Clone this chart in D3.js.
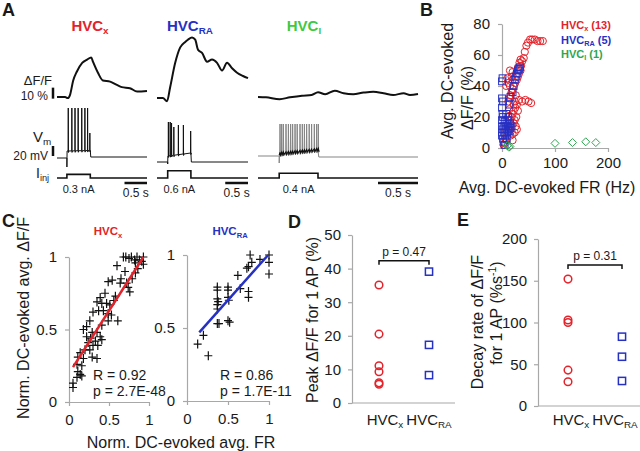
<!DOCTYPE html>
<html><head><meta charset="utf-8">
<script src="https://cdn.jsdelivr.net/npm/d3@7"></script>
<style>
body{margin:0;background:#fff}
svg{display:block}
text{font-family:"Liberation Sans",Arial,Helvetica,sans-serif;fill:#1a1a1a}
</style></head>
<body><svg id="c" width="640" height="451"></svg>
<script>
// ---------------- DATA ----------------
// Panel A: ΔF/F traces [time s, %]
const dffX  = [[0,0],[0.18,0],[0.24,-1],[0.29,2],[0.36,15],[0.44,23],[0.56,31],[0.67,34],[0.76,36],[0.8,32],[0.91,22],[1.02,15],[1.18,14],[1.33,11],[1.44,9],[1.62,8],[1.78,5],[2.0,5.5]];
const dffRA = [[0,0],[0.13,0],[0.22,-3],[0.29,10],[0.40,32],[0.51,46],[0.62,51],[0.68,53],[0.77,55],[0.84,53],[0.9,44],[0.99,41],[1.1,33],[1.21,35],[1.32,32],[1.43,25],[1.54,32],[1.65,27],[1.76,23],[1.89,20],[2.0,18]];
const dffI  = [[0,0],[0.1,-0.3],[0.27,-2],[0.4,-0.3],[0.55,1.2],[0.67,1.8],[0.75,4.3],[0.84,2.5],[0.96,5.7],[1.07,3.4],[1.19,2.5],[1.32,4],[1.44,4.8],[1.57,3.4],[1.69,1.8],[1.82,3.4],[1.9,1.8],[2.0,2.7]];
// Panel A: Vm spikes (s) and peak (mV)
const spikesX  = [0.25,0.33,0.40,0.47,0.55,0.62,0.68,0.73];
const peaksX   = [30,30,30,30,30,30,30,-20];
const spikesRA = [0.25,0.29,0.32,0.37,0.47,0.58,0.74];
const peaksRA  = [10,10,8,0,4,4,-8];
const spikesI  = [0.275,0.296,0.317,0.35,0.38,0.408,0.433,0.463,0.49,0.525,0.554,0.58,0.608,0.64,0.67,0.704,0.733,0.754];
const peaksI   = [-6,-6,-6,-6,-6,-6,-6,-6,-6,-6,-6,-6,-6,-6,-6,-6,-6,-6];
const currents = [0.3,0.6,0.4];
const currentLabels = ["0.3 nA","0.6 nA","0.4 nA"];

// Panel B: [FR Hz, ΔF/F %]
const bHVCx = [[49,68],[53,70],[57,70],[62,70],[67,69],[72,69],[77,69],[46,66],[43,62],[41,58],[38,56],[36,53],[35,50],[32,48],[30,46],[28,44],[25,42],[22,40],[20,38],[18,36],[16,34],[14,32],[12,30],[30,52],[33,55],[35,57],[15,50],[20,49],[18,46],[10,45],[12,42],[8,40],[15,40],[20,44],[38,30],[44,31],[50,30],[55,29],[32,31],[28,28],[25,26],[22,24],[30,24],[20,22],[27,20],[24,18],[18,20],[22,16],[26,14],[28,12],[24,10],[20,9],[16,12],[18,15],[5,3],[8,5],[10,8],[12,10],[14,14],[6,6],[3,2],[15,18],[10,15],[12,20],[14,25],[8,12],[16,8],[20,5],[24,30],[26,34],[22,28]];
const bHVCRA = [[0,43],[1,45],[0,32],[2,30],[0,26],[1,22],[0,18],[0,14],[1,12],[0,10],[0,8],[2,6],[3,4],[5,2],[4,10],[6,12],[8,14],[10,10],[12,12],[14,11],[16,13],[18,14],[10,18],[8,22],[12,20],[14,28],[16,33],[20,36],[22,40],[24,44],[26,46],[28,48],[30,50],[32,51],[34,52],[6,8],[9,6],[11,14],[15,16],[3,14],[5,17],[2,20]];
const bHVCI  = [[100,3],[133,3.5],[158,4],[177,3.5],[10,1.5],[13,0.5],[15,1]];
const bXTicks = [0,100,200];
const bYTicks = [0,20,40,60,80];

// Panel C: normalized [FR, ΔF/F]
const cHVCx = [[0.6,0.94],[0.68,1.0],[0.71,1.0],[0.75,0.99],[0.78,1.0],[0.82,0.98],[0.85,1.0],[0.88,0.98],[0.91,0.97],[0.93,0.95],[0.93,1.0],[0.83,0.96],[0.86,0.92],[0.83,0.89],[0.79,0.85],[0.74,0.79],[0.76,0.76],[0.64,0.82],[0.65,0.85],[0.54,0.84],[0.49,0.83],[0.45,0.75],[0.39,0.72],[0.35,0.69],[0.41,0.68],[0.47,0.68],[0.51,0.67],[0.43,0.63],[0.37,0.63],[0.30,0.62],[0.49,0.61],[0.53,0.6],[0.61,0.56],[0.49,0.56],[0.41,0.53],[0.26,0.56],[0.22,0.52],[0.18,0.5],[0.29,0.48],[0.35,0.48],[0.39,0.45],[0.22,0.45],[0.24,0.41],[0.30,0.39],[0.36,0.39],[0.41,0.43],[0.26,0.36],[0.20,0.36],[0.29,0.31],[0.35,0.30],[0.14,0.34],[0.18,0.3],[0.11,0.31],[0.10,0.26],[0.16,0.25],[0.11,0.21],[0.14,0.19],[0.16,0.18],[0.10,0.17],[0.05,0.13],[0.05,0.10],[0.27,0.44],[0.33,0.42],[0.7,0.9],[0.72,0.82],[0.56,0.7],[0.58,0.73]];
const cHVCRA = [[0.77,1.0],[0.89,0.97],[1.0,1.0],[1.0,0.95],[1.0,0.87],[0.79,0.95],[0.75,0.92],[0.73,0.91],[0.62,0.86],[0.65,0.77],[0.75,0.75],[0.75,0.71],[0.5,0.78],[0.5,0.76],[0.5,0.71],[0.51,0.69],[0.37,0.78],[0.37,0.76],[0.37,0.70],[0.38,0.68],[0.37,0.66],[0.37,0.63],[0.37,0.53],[0.39,0.53],[0.5,0.55],[0.52,0.54],[0.2,0.45],[0.13,0.39],[0.26,0.31]];
const cFitX  = [[0.05,0.24],[0.93,1.0]];
const cFitRA = [[0.15,0.47],[0.99,1.0]];
const cTicks = [0,0.5,1];
const cStats = [["R = 0.92","p = 2.7E-48"],["R = 0.86","p = 1.7E-11"]];

// Panel D: peak ΔF/F for 1 AP (%)
const dHVCx  = [35.1,20.5,11.1,9.3,6.0,5.6];
const dHVCRA = [39.1,17.3,8.3];
const dYTicks = [0,10,20,30,40,50];
// Panel E: decay rate (%/s)
const eHVCx  = [152,103,100,43,29];
const eHVCRA = [83,59,30];
const eYTicks = [0,50,100,150,200];

// ---------------- DRAW ----------------
const svg = d3.select('#c');
const AX = '#a8a8a8', RED = '#e3232b', BLUE = '#2631c4', GREEN_A = '#3fc93f', GREEN = '#2ea651';

function rich(g, x, y, parts, fs, anchor, opts = {}) {
  const t = g.append('text').attr('x', x).attr('y', y).attr('font-size', fs)
    .attr('text-anchor', anchor || 'start');
  if (opts.rotate) t.attr('transform', `rotate(-90,${x},${y})`);
  if (opts.weight) t.attr('font-weight', opts.weight);
  if (opts.fill) t.style('fill', opts.fill);
  let shift = 0;
  parts.forEach(p => {
    const [s, type] = Array.isArray(p) ? p : [p, null];
    const target = type === 'sub' ? fs * 0.22 : type === 'sup' ? -fs * 0.4 : 0;
    const ts = t.append('tspan').text(s).attr('dy', target - shift);
    if (type) ts.attr('font-size', fs * 0.66);
    shift = target;
  });
  return t;
}
function styleAxis(g, fs) {
  g.select('.domain').attr('stroke', AX).attr('stroke-width', 1.2);
  g.selectAll('.tick line').attr('stroke', AX).attr('stroke-width', 1.2);
  g.selectAll('.tick text').attr('font-size', fs || 15).style('fill', '#1a1a1a')
    .attr('font-family', '"Liberation Sans",Arial,sans-serif');
}
function letter(x, y, s) {
  svg.append('text').attr('x', x).attr('y', y).attr('font-size', 18).attr('font-weight', 'bold').text(s);
}

// ===== Panel A =====
letter(2, 16, 'A');
const traces = [
  {x0: 57, x1: 147, dBase: 97, vBase: 158, dff: dffX, spikes: spikesX, peaks: peaksX, on: 0.22, off: 0.74, dip: -88, p0: -56, p1: -55, after: -68, color: RED, title: 'x', tc: 90},
  {x0: 157, x1: 248, dBase: 98, vBase: 162, dff: dffRA, spikes: spikesRA, peaks: peaksRA, on: 0.235, off: 0.745, dip: -74, p0: -58, p1: -52, after: -70, color: BLUE, title: 'RA', tc: 190},
  {x0: 258, x1: 418, dBase: 97, vBase: 156, dff: dffI, spikes: spikesI, peaks: peaksI, on: 0.265, off: 0.75, dip: -84, p0: -68, p1: -60, after: -72, color: GREEN_A, title: 'I', tc: 304}
];
traces.forEach((tr, i) => {
  const x = d3.scaleLinear().domain([0, 2]).range([tr.x0, tr.x1]);
  const yD = d3.scaleLinear().domain([0, 10]).range([tr.dBase, tr.dBase - 11]);
  const yV = d3.scaleLinear().domain([-70, 30]).range([tr.vBase, tr.vBase - 50]);
  const yI = d3.scaleLinear().domain([0, 1]).range([178, 166]);
  const line = d3.line().x(d => x(d[0]));
  rich(svg, tr.tc, 31, ['HVC', [tr.title, 'sub']], 15, 'middle', {weight: 'bold', fill: tr.color});
  // dF/F
  svg.append('path').attr('d', line.y(d => yD(d[1])).curve(d3.curveMonotoneX)(tr.dff))
    .attr('fill', 'none').attr('stroke', '#111').attr('stroke-width', 2);
  // Vm
  const plat = t => tr.p0 + (tr.p1 - tr.p0) * (t - tr.on) / (tr.off - tr.on);
  const pts = [[0, -70], [tr.on, -70], [tr.on, tr.dip], [tr.on + 0.004, tr.p0]];
  tr.spikes.forEach((t, k) => {
    const p = plat(t);
    pts.push([t - 0.003, p], [t, tr.peaks[k]], [t + 0.004, p - 3], [t + 0.012, p]);
  });
  pts.push([tr.off, tr.p1], [tr.off + 0.01, tr.after], [2, tr.after]);
  svg.append('path').attr('d', d3.line().x(d => x(d[0])).y(d => yV(d[1]))(pts))
    .attr('fill', 'none').attr('stroke', i === 2 ? '#858585' : '#111').attr('stroke-width', 1);
  if (i === 2) {
    const bl = [[tr.on, tr.p0]];
    tr.spikes.forEach(t => { bl.push([t, plat(t) + 5], [t + 0.006, plat(t)]); });
    bl.push([tr.off, tr.p1]);
    svg.append('path').attr('d', d3.line().x(d => x(d[0])).y(d => yV(d[1]))(bl))
      .attr('fill', 'none').attr('stroke', '#111').attr('stroke-width', 1.2);
  }
  // Iinj
  const ip = [[0, 0], [tr.on, 0], [tr.on, currents[i]], [tr.off, currents[i]], [tr.off, 0], [2, 0]];
  svg.append('path').attr('d', d3.line().x(d => x(d[0])).y(d => yI(d[1]))(ip))
    .attr('fill', 'none').attr('stroke', '#111').attr('stroke-width', 1.6);
  svg.append('text').attr('x', x((tr.on + tr.off) / 2)).attr('y', 193).attr('font-size', 11)
    .attr('text-anchor', 'middle').text(currentLabels[i]);
  // time scale bar 0.5 s
  svg.append('line').attr('x1', x(1.5)).attr('x2', x(2)).attr('y1', 183).attr('y2', 183)
    .attr('stroke', '#111').attr('stroke-width', 2.5);
  svg.append('text').attr('x', x(1.75)).attr('y', 197).attr('font-size', 12)
    .attr('text-anchor', 'middle').text('0.5 s');
  if (i === 0) {
    svg.append('line').attr('x1', 53).attr('x2', 53).attr('y1', yD(-1.5)).attr('y2', yD(8.5))
      .attr('stroke', '#111').attr('stroke-width', 2.5);
    svg.append('line').attr('x1', 53).attr('x2', 53).attr('y1', yV(-66)).attr('y2', yV(-46))
      .attr('stroke', '#111').attr('stroke-width', 2.5);
  }
});
svg.append('text').attr('x', 52).attr('y', 85).attr('font-size', 13).attr('text-anchor', 'end').text('ΔF/F');
svg.append('text').attr('x', 48).attr('y', 100).attr('font-size', 12).attr('text-anchor', 'end').text('10 %');
rich(svg, 33, 142, ['V', ['m', 'sub']], 15, 'start');
svg.append('text').attr('x', 48).attr('y', 160).attr('font-size', 12).attr('text-anchor', 'end').text('20 mV');
rich(svg, 36, 178, ['I', ['inj', 'sub']], 14, 'start');

// ===== Panel B =====
letter(420, 16, 'B');
{
  const x = d3.scaleLinear().domain([0, 200]).range([502, 608]);
  const y = d3.scaleLinear().domain([0, 80]).range([148, 24]);
  const gx = svg.append('g').attr('transform', 'translate(0,148)')
    .call(d3.axisBottom(x).tickValues(bXTicks).tickSize(4).tickSizeOuter(0).tickPadding(5));
  styleAxis(gx, 15);
  const gy = svg.append('g').attr('transform', 'translate(502,0)')
    .call(d3.axisLeft(y).tickValues(bYTicks).tickSize(4).tickSizeOuter(0).tickPadding(8));
  styleAxis(gy, 15);
  svg.append('g').selectAll('circle').data(bHVCx).join('circle')
    .attr('cx', d => x(d[0])).attr('cy', d => y(d[1])).attr('r', 3.6)
    .attr('fill', 'none').attr('stroke', RED).attr('stroke-width', 1);
  svg.append('g').selectAll('rect').data(bHVCRA).join('rect')
    .attr('x', d => x(d[0]) - 3.4).attr('y', d => y(d[1]) - 3.4).attr('width', 6.8).attr('height', 6.8)
    .attr('fill', 'none').attr('stroke', BLUE).attr('stroke-width', 1);
  svg.append('g').selectAll('path').data(bHVCI).join('path')
    .attr('d', 'M0,-4L4,0L0,4L-4,0Z').attr('transform', d => `translate(${x(d[0])},${y(d[1])})`)
    .attr('fill', 'none').attr('stroke', GREEN).attr('stroke-width', 1);
  rich(svg, 561, 29, ['HVC', ['x', 'sub'], ' (13)'], 11, 'start', {weight: 'bold', fill: RED});
  rich(svg, 561, 44, ['HVC', ['RA', 'sub'], ' (5)'], 11, 'start', {weight: 'bold', fill: BLUE});
  rich(svg, 561, 58, ['HVC', ['I', 'sub'], ' (1)'], 11, 'start', {weight: 'bold', fill: GREEN});
  svg.append('text').attr('x', 547).attr('y', 193).attr('font-size', 16).attr('text-anchor', 'middle')
    .text('Avg. DC-evoked FR (Hz)');
  svg.append('text').attr('transform', 'translate(453,81) rotate(-90)').attr('font-size', 16)
    .attr('text-anchor', 'middle').text('Avg. DC-evoked');
  svg.append('text').attr('transform', 'translate(473,98) rotate(-90)').attr('font-size', 16)
    .attr('text-anchor', 'middle').text('ΔF/F (%)');
}

// ===== Panel C =====
letter(2, 227, 'C');
function crossPlot(data, fit, color, xr, yr, title, tcx, stats, sx) {
  const x = d3.scaleLinear().domain([0, 1]).range(xr);
  const y = d3.scaleLinear().domain([0, 1]).range(yr);
  const gx = svg.append('g').attr('transform', `translate(0,${yr[0]})`)
    .call(d3.axisBottom(x).tickValues(cTicks).tickFormat(d3.format('~g')).tickSize(4).tickSizeOuter(0).tickPadding(8));
  styleAxis(gx, 15);
  const gy = svg.append('g').attr('transform', `translate(${xr[0]},0)`)
    .call(d3.axisLeft(y).tickValues(cTicks).tickFormat(d3.format('~g')).tickSize(4).tickSizeOuter(0).tickPadding(8));
  styleAxis(gy, 15);
  svg.append('g').selectAll('path').data(data).join('path')
    .attr('d', 'M-4,0H4M0,-4.5V4.5').attr('transform', d => `translate(${x(d[0])},${y(d[1])})`)
    .attr('stroke', '#111').attr('stroke-width', 1.2).attr('fill', 'none');
  svg.append('line').attr('x1', x(fit[0][0])).attr('y1', y(fit[0][1])).attr('x2', x(fit[1][0])).attr('y2', y(fit[1][1]))
    .attr('stroke', color).attr('stroke-width', 2.5);
  rich(svg, tcx, 235, ['HVC', [title, 'sub']], 11.5, 'middle', {weight: 'bold', fill: color});
  svg.append('text').attr('x', sx).attr('y', 380).attr('font-size', 14).text(stats[0]);
  svg.append('text').attr('x', sx).attr('y', 396).attr('font-size', 14).text(stats[1]);
}
crossPlot(cHVCx, cFitX, RED, [69, 149], [402, 257], 'x', 108, cStats[0], 93);
crossPlot(cHVCRA, cFitRA, BLUE, [187, 269], [401, 255], 'RA', 230, cStats[1], 220);
svg.append('text').attr('transform', 'translate(29,318) rotate(-90)').attr('font-size', 16)
  .attr('text-anchor', 'middle').text('Norm. DC-evoked avg. ΔF/F');
svg.append('text').attr('x', 181).attr('y', 448).attr('font-size', 16).attr('text-anchor', 'middle')
  .text('Norm. DC-evoked avg. FR');

// ===== Panels D & E =====
function dotPlot(cfg) {
  const y = d3.scaleLinear().domain(cfg.domain).range([cfg.y0, cfg.y1]);
  const x = d3.scalePoint().domain(['x', 'RA']).range(cfg.xr);
  svg.append('line').attr('x1', cfg.ax).attr('x2', cfg.axEnd).attr('y1', cfg.y0).attr('y2', cfg.y0)
    .attr('stroke', AX).attr('stroke-width', 1.2);
  const gy = svg.append('g').attr('transform', `translate(${cfg.ax},0)`)
    .call(d3.axisLeft(y).tickValues(cfg.ticks).tickSize(4).tickSizeOuter(0).tickPadding(7));
  styleAxis(gy, 15);
  svg.append('g').selectAll('circle').data(cfg.a).join('circle')
    .attr('cx', x('x')).attr('cy', d => y(d)).attr('r', 3.8)
    .attr('fill', 'none').attr('stroke', RED).attr('stroke-width', 1.5);
  svg.append('g').selectAll('rect').data(cfg.b).join('rect')
    .attr('x', x('RA') - 3.6).attr('y', d => y(d) - 3.6).attr('width', 7.2).attr('height', 7.2)
    .attr('fill', 'none').attr('stroke', BLUE).attr('stroke-width', 1.5);
  const by = y(cfg.bracket);
  svg.append('path').attr('d', `M${x('x')},${by + 4}V${by}H${x('RA')}V${by + 4}`)
    .attr('fill', 'none').attr('stroke', '#111').attr('stroke-width', 1.5);
  svg.append('text').attr('x', (x('x') + x('RA')) / 2).attr('y', by - 5).attr('font-size', 12)
    .attr('text-anchor', 'middle').text(cfg.p);
  rich(svg, x('x') + cfg.lx[0], 425, ['HVC', ['x', 'sub']], 15, 'middle');
  rich(svg, x('RA') + cfg.lx[1], 425, ['HVC', ['RA', 'sub']], 15, 'middle');
}
letter(288, 228, 'D');
dotPlot({domain: [0, 50], y0: 403, y1: 235, xr: [379, 429], ax: 352, axEnd: 455, ticks: dYTicks,
  a: dHVCx, b: dHVCRA, bracket: 42.3, p: 'p = 0.47', lx: [6, 0]});
svg.append('text').attr('transform', 'translate(318,320) rotate(-90)').attr('font-size', 16)
  .attr('text-anchor', 'middle').text('Peak ΔF/F for 1 AP (%)');
letter(457, 226, 'E');
dotPlot({domain: [0, 200], y0: 406, y1: 239, xr: [568, 622], ax: 538, axEnd: 640, ticks: eYTicks,
  a: eHVCx, b: eHVCRA, bracket: 169, p: 'p = 0.31', lx: [3, -7]});
svg.append('text').attr('transform', 'translate(483,322) rotate(-90)').attr('font-size', 16)
  .attr('text-anchor', 'middle').text('Decay rate  of ΔF/F');
rich(svg, 502, 313, ['for 1 AP (%s', ['-1', 'sup'], ')'], 16, 'middle', {rotate: true});
</script></body></html>
